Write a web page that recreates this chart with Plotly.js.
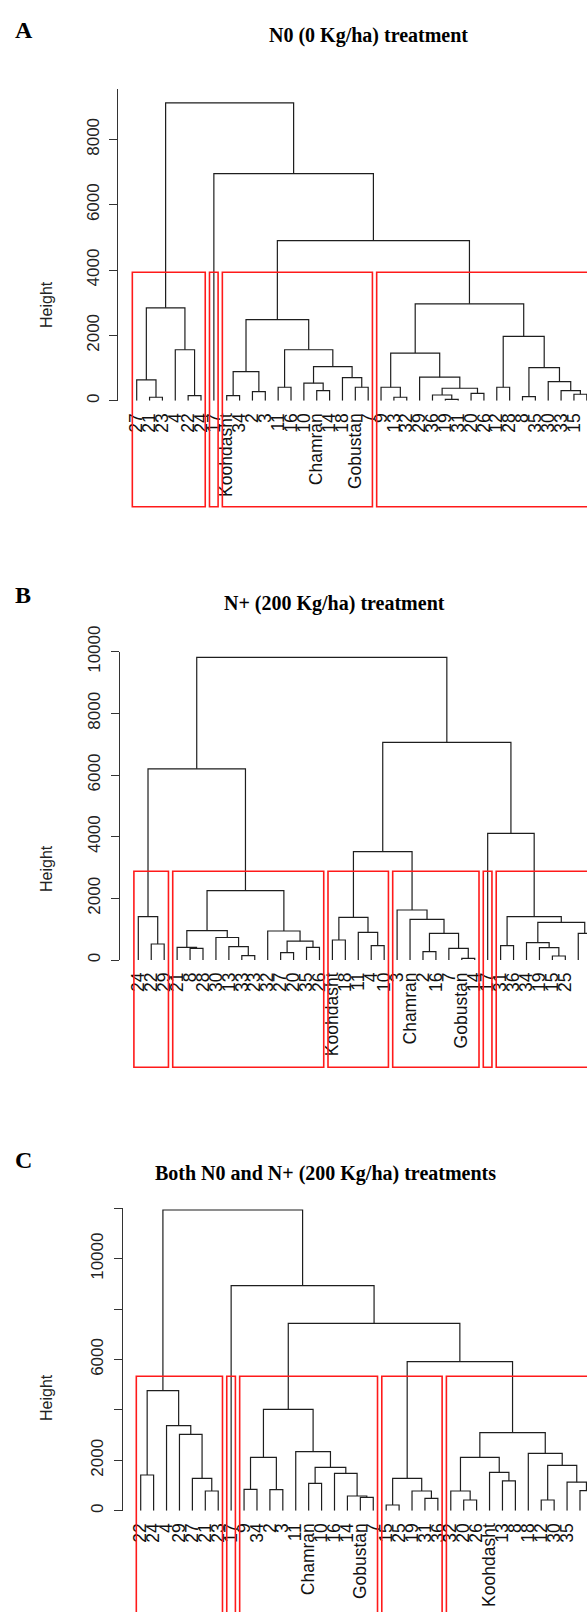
<!DOCTYPE html>
<html><head><meta charset="utf-8">
<script src="https://cdn.plot.ly/plotly-3.0.1.min.js"></script>
<style>html,body{margin:0;padding:0;background:#fff;overflow:hidden}#chart{width:587px;height:1612px}</style>
</head><body><div id="chart"></div>
<script>
// ---------------- DATA ----------------
// Leaf labels in dendrogram order
const labelsA = ["27","21","23","4","22","24","17","Koohdasht","34","2","3","11","16","10","Chamran","14","18","Gobustan","7","9","13","32","29","36","19","31","20","26","12","28","8","35","30","33","15","25"];
const labelsB = ["24","22","29","21","8","28","30","13","33","23","32","27","20","35","26","Koohdasht","18","11","4","10","3","Chamran","2","16","7","Gobustan","14","17","31","36","34","19","15","25","9","12"];
const labelsC = ["22","24","4","29","27","21","23","17","9","34","2","3","11","Chamran","10","16","14","Gobustan","7","15","25","19","31","36","32","20","26","Koohdasht","13","8","18","12","30","35","28","33"];

// Merge tables (hclust convention: negative = leaf -(position+1), positive = earlier merge row)
const mergeA = [[-2,-3],[-1,1],[-5,-6],[-4,3],[2,4],[-8,-9],[-10,-11],[6,7],[-12,-13],[-15,-16],[-14,10],[-18,-19],[-17,12],[11,13],[9,14],[8,15],[-21,-22],[-20,17],[-25,-26],[-24,19],[-27,-28],[20,21],[-23,22],[18,23],[-29,-30],[-31,-32],[-35,-36],[-34,27],[-33,28],[26,29],[25,30],[24,31],[16,32],[-7,33],[5,34]];
const heightsA = [105,637,154,1560,2843,154,277,892,412,308,535,412,708,1046,1560,2482,105,412,43,175,227,381,720,1458,412,123,197,308,585,1015,1969,2966,4900,6950,9120];

const mergeB = [[-2,-3],[-1,1],[-5,-6],[-4,3],[-9,-10],[-8,5],[-7,6],[4,7],[-12,-13],[-14,-15],[9,10],[-11,11],[8,12],[2,13],[-16,-17],[-19,-20],[-18,16],[15,17],[-23,-24],[-26,-27],[-25,20],[19,21],[-22,22],[-21,23],[18,24],[-29,-30],[-33,-34],[-32,27],[-31,28],[-35,-36],[29,30],[26,31],[-28,32],[25,33],[14,34]];
const heightsB = [519,1405,378,411,140,432,730,951,238,411,610,940,2248,6200,649,465,897,1384,270,54,378,865,1319,1622,3513,465,130,400,562,865,1222,1405,4108,7060,9817];

const mergeC = [[-1,-2],[-6,-7],[-5,2],[-4,3],[-3,4],[1,5],[-9,-10],[-11,-12],[7,8],[-14,-15],[-18,-19],[-17,11],[-16,12],[10,13],[-13,14],[9,15],[-20,-21],[-23,-24],[-22,18],[17,19],[-26,-27],[-25,21],[-29,-30],[-28,23],[22,24],[-32,-33],[-35,-36],[-34,27],[26,28],[-31,29],[25,30],[20,31],[16,32],[-8,33],[6,34]];
const heightsC = [1417,782,1286,3032,3373,4762,849,840,2120,1087,532,583,1484,1722,2343,4024,226,492,782,1286,425,782,1180,1522,2120,425,800,1130,1800,2278,3100,5913,7436,8929,11933];

// Cluster sizes (rect.hclust boxes), left to right
const clustersA = [6,1,12,17];
const clustersB = [3,12,5,7,1,8];
const clustersC = [7,1,11,5,12];

// Y tick values / labels
const yTicksA = [0,2000,4000,6000,8000];
const yTextA  = ["0","2000","4000","6000","8000"];
const yTicksB = [0,2000,4000,6000,8000,10000];
const yTextB  = ["0","2000","4000","6000","8000","10000"];
const yTicksC = [0,2000,4000,6000,8000,10000,12000];
const yTextC  = ["0","2000","","6000","","10000",""];

const titles = ["N0 (0 Kg/ha) treatment","N+ (200 Kg/ha) treatment","Both N0 and N+ (200 Kg/ha) treatments"];
const letters = ["A","B","C"];

// ---------------- LAYOUT (pixel geometry) ----------------
const W = 587, H = 1612;
const geom = [
  {axisX:118.3, top:89.4,  zero:400.7,  firstLeaf:136.7, step:12.86, yMax:9530,  boxBottom:506.7,  titleX:368, titleY:36,   letterY:30,   heightY:305},
  {axisX:120.0, top:651.7, zero:960.0,  firstLeaf:138.3, step:12.94, yMax:10000, boxBottom:1067.3, titleX:334, titleY:603,  letterY:595,  heightY:869},
  {axisX:122.7, top:1208.3,zero:1510.7, firstLeaf:140.7, step:12.92, yMax:12000, boxBottom:1660,   titleX:325, titleY:1173, letterY:1160, heightY:1398}
];
const panels = [
  {labels:labelsA, merge:mergeA, heights:heightsA, clusters:clustersA, yt:yTicksA, ytt:yTextA},
  {labels:labelsB, merge:mergeB, heights:heightsB, clusters:clustersB, yt:yTicksB, ytt:yTextB},
  {labels:labelsC, merge:mergeC, heights:heightsC, clusters:clustersC, yt:yTicksC, ytt:yTextC}
];

function dendro(merge, heights){
  const nx = [], ny = [], xs = [], ys = [];
  const pos = r => r < 0 ? [-r-1, 0] : [nx[r-1], ny[r-1]];
  merge.forEach((m,i)=>{
    const a = pos(m[0]), b = pos(m[1]), h = heights[i];
    xs.push(a[0], a[0], b[0], b[0], null);
    ys.push(a[1], h, h, b[1], null);
    nx.push((a[0]+b[0])/2); ny.push(h);
  });
  return {x:xs, y:ys};
}

const lineCol = '#1e1e1e';
const layout = {
  width:W, height:H, margin:{l:0,r:0,t:0,b:0},
  paper_bgcolor:'#ffffff', plot_bgcolor:'rgba(0,0,0,0)', showlegend:false,
  shapes:[], annotations:[]
};
const traces = [];

panels.forEach((p,k)=>{
  const g = geom[k];
  const s = k===0 ? '' : String(k+1);
  const ydom = [1 - g.zero/H, 1 - g.top/H];
  layout['xaxis'+s] = {
    domain:[g.axisX/W, 1],
    range:[(g.axisX - g.firstLeaf)/g.step, (W - g.firstLeaf)/g.step],
    anchor:'y'+s, tickmode:'array',
    tickvals:p.labels.map((_,i)=>i), ticktext:p.labels,
    tickangle:-90, ticks:'', showgrid:false, zeroline:false, showline:false,
    ticklabelstandoff:8,
    tickfont:{family:'Liberation Sans, Arial, sans-serif', size:17.5, color:'#111'},
    fixedrange:true
  };
  layout['yaxis'+s] = {
    domain:ydom, range:[0, g.yMax], anchor:'x'+s,
    tickmode:'array', tickvals:p.yt, ticktext:p.ytt, tickangle:-90,
    ticks:'outside', ticklen:8, tickwidth:1, tickcolor:'#333',
    showline:true, linecolor:'#333', linewidth:1,
    showgrid:false, zeroline:false, ticklabelstandoff:4,
    tickfont:{family:'Liberation Sans, Arial, sans-serif', size:17, color:'#222'},
    fixedrange:true
  };
  const d = dendro(p.merge, p.heights);
  traces.push({type:'scatter', mode:'lines', x:d.x, y:d.y, xaxis:'x'+s, yaxis:'y'+s,
    line:{color:lineCol, width:1.2}, hoverinfo:'skip', connectgaps:false});

  // rect.hclust boxes
  const sorted = p.heights.slice().sort((a,b)=>b-a);
  const kc = p.clusters.length;
  const boxTop = (sorted[kc-2] + sorted[kc-1]) / 2;
  const topPaper = ydom[0] + boxTop / g.yMax * (ydom[1]-ydom[0]);
  let start = 0;
  p.clusters.forEach(n=>{
    layout.shapes.push({type:'rect', xref:'x'+s, yref:'paper',
      x0:start-0.34, x1:start+n-1+0.33, y0:1 - g.boxBottom/H, y1:topPaper,
      line:{color:'#ff1a1a', width:1.6}, fillcolor:'rgba(0,0,0,0)', layer:'above'});
    start += n;
  });

  layout.annotations.push({xref:'paper', yref:'paper', x:g.titleX/W, y:1 - g.titleY/H,
    text:'<b>'+titles[k]+'</b>', showarrow:false, xanchor:'center', yanchor:'middle',
    font:{family:'Liberation Serif, Times New Roman, serif', size:20, color:'#000'}});
  layout.annotations.push({xref:'paper', yref:'paper', x:13/W, y:1 - g.letterY/H,
    text:'<b>'+letters[k]+'</b>', showarrow:false, xanchor:'left', yanchor:'middle',
    font:{family:'Liberation Serif, Times New Roman, serif', size:24, color:'#000'}});
  layout.annotations.push({xref:'paper', yref:'paper', x:46/W, y:1 - g.heightY/H,
    text:'Height', textangle:-90, showarrow:false, xanchor:'center', yanchor:'middle',
    font:{family:'Liberation Sans, Arial, sans-serif', size:16, color:'#222'}});
});

Plotly.newPlot('chart', traces, layout, {staticPlot:true, displayModeBar:false});
</script>
</body></html>
